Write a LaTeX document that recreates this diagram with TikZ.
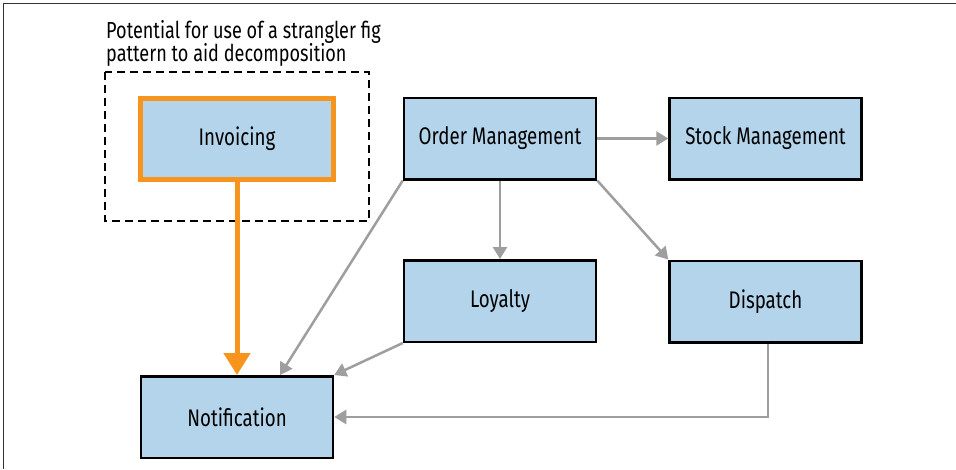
\documentclass[tikz,border=0pt]{standalone}
\usepackage{fontspec}
\setmainfont{Fira Sans}[FakeStretch=0.78]
\usetikzlibrary{arrows.meta,calc}
\definecolor{boxblue}{HTML}{B3D4EA}
\definecolor{orng}{HTML}{F7941D}
\definecolor{arrgray}{HTML}{9E9E9E}
\begin{document}
\begin{tikzpicture}[x=1pt,y=-1pt,
  svc/.style={draw=black, line width=2.5pt, fill=boxblue, minimum width=192pt, minimum height=81.5pt, inner sep=0pt, font=\fontsize{24}{26}\selectfont},
  orangebox/.style={svc, draw=orng, line width=5pt, minimum width=193pt, minimum height=81pt},
  garrow/.style={draw=arrgray, line width=2.5pt, -{Triangle[length=12pt,width=14pt]}},
  oarrow/.style={draw=orng, line width=5pt, -{Triangle[length=22pt,width=26pt]}},
  captext/.style={anchor=north west, align=left, inner sep=0pt, font=\fontsize{23.2}{23.5}\selectfont}
]
\useasboundingbox (0,0) rectangle (956,469);
\fill[white] (0,0) rectangle (956,469);
\draw[gray!40!black, line width=1.5pt] (3.5,469) -- (3.5,3.5) -- (956,3.5);
% dashed region
\draw[black, line width=2pt, dash pattern=on 8pt off 5pt] (105,72) rectangle (369,221);
\node[captext] (caption) at (106,20) {Potential for use of a strangler fig\\pattern to aid decomposition};
% services
\node[orangebox] (inv) at (237,139) {Invoicing};
\node[svc] (om) at (500,138.5) {Order Management};
\node[svc] (sm) at (765.5,138.5) {Stock Management};
\node[svc] (loy) at (500,301) {Loyalty};
\node[svc] (dis) at (765.5,301.5) {Dispatch};
\node[svc] (note) at (237,417) {Notification};
% connectors
\draw[garrow] (om.east) -- (sm.west);
\draw[garrow] (om.south) -- (loy.north);
\draw[garrow] (om.south east) -- (dis.north west);
\draw[garrow] (om.south west) -- ([xshift=43pt]note.north);
\draw[garrow] (loy.south west) -- (note.north east);
\draw[garrow] ([xshift=2.5pt]dis.south) |- (note.east);
\draw[oarrow] (inv.south) -- (note.north);
\end{tikzpicture}
\end{document}
